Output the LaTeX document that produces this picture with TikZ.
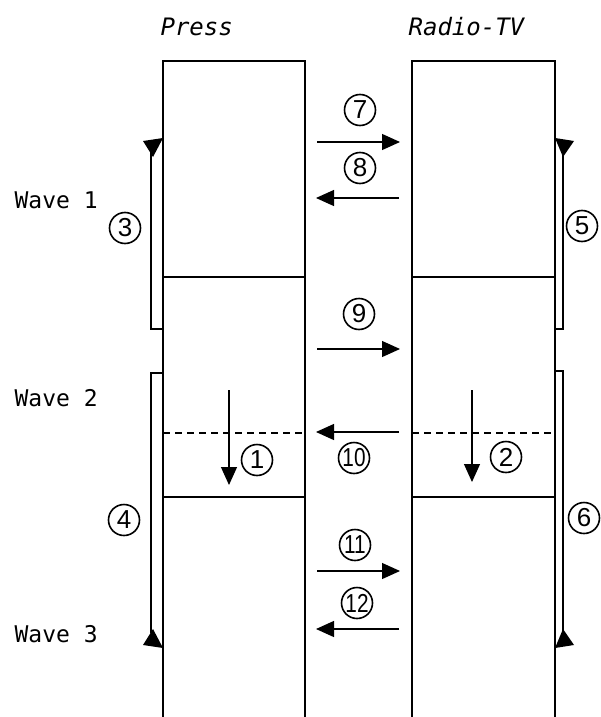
\documentclass[tikz,border=0pt]{standalone}
\usepackage{fontspec}
\newfontfamily\monofont{DejaVu Sans Mono}
\newfontfamily\numfont{Liberation Sans}
\usetikzlibrary{arrows.meta}
\begin{document}
\begin{tikzpicture}[x=1pt,y=-1pt,
  every path/.style={line width=1.2pt},
  tip/.style={-{Triangle[length=18pt,width=16pt]}},
  num/.style={draw,circle,line width=1.6pt,minimum size=31pt,inner sep=0pt,font=\numfont\fontsize{26}{26}\selectfont},
  lbl/.style={anchor=west,inner sep=0pt,font=\monofont\fontsize{23}{23}\selectfont},
  ttl/.style={anchor=west,inner sep=0pt,font=\monofont\itshape\fontsize{24}{24}\selectfont}]
\useasboundingbox (0,0) rectangle (601,717);
% titles
\node[ttl] (press) at (160,27) {Press};
\node[ttl] (radio) at (408,27) {Radio-TV};
% wave labels
\node[lbl] (w1) at (14,200) {Wave 1};
\node[lbl] (w2) at (14,398) {Wave 2};
\node[lbl] (w3) at (14,634) {Wave 3};
% columns
\draw (163,717) -- (163,61) -- (305,61) -- (305,717);
\draw (412,717) -- (412,61) -- (555,61) -- (555,717);
\draw (163,277) -- (305,277) (412,277) -- (555,277);
\draw[dashed,dash pattern=on 7pt off 5pt] (163,433) -- (305,433) (412,433) -- (555,433);
\draw (163,497) -- (305,497) (412,497) -- (555,497);
% coordinates for connectors
\coordinate (a7s) at (317,142); \coordinate (a7e) at (400,142);
\coordinate (a8s) at (399,198); \coordinate (a8e) at (316,198);
\coordinate (a9s) at (317,349); \coordinate (a9e) at (400,349);
\coordinate (a10s) at (399,432); \coordinate (a10e) at (316,432);
\coordinate (a11s) at (317,571); \coordinate (a11e) at (400,571);
\coordinate (a12s) at (399,629); \coordinate (a12e) at (316,629);
\coordinate (a1s) at (229,390); \coordinate (a1e) at (229,485);
\coordinate (a2s) at (472,390); \coordinate (a2e) at (472,482);
\draw[tip] (a7s) -- (a7e);
\draw[tip] (a8s) -- (a8e);
\draw[tip] (a9s) -- (a9e);
\draw[tip] (a10s) -- (a10e);
\draw[tip] (a11s) -- (a11e);
\draw[tip] (a12s) -- (a12e);
\draw[tip] (a1s) -- (a1e);
\draw[tip] (a2s) -- (a2e);
% brackets
\coordinate (b3a) at (163,329); \coordinate (b3b) at (151,329); \coordinate (b3c) at (151,152);
\coordinate (b4a) at (163,373); \coordinate (b4b) at (151,373); \coordinate (b4c) at (151,633);
\coordinate (b5a) at (555,329); \coordinate (b5b) at (563,329); \coordinate (b5c) at (563,152);
\coordinate (b6a) at (555,371); \coordinate (b6b) at (563,371); \coordinate (b6c) at (563,633);
\draw (b3a) -- (b3b) -- (b3c);
\draw (b4a) -- (b4b) -- (b4c);
\draw (b5a) -- (b5b) -- (b5c);
\draw (b6a) -- (b6b) -- (b6c);
\fill (163,138) -- (143,141) -- (153,157) -- cycle;
\fill (163,648) -- (143,645) -- (153,629) -- cycle;
\fill (555,138) -- (574,141) -- (563,157) -- cycle;
\fill (555,648) -- (574,645) -- (563,629) -- cycle;
% circled numbers
\node[num] (n1) at (257,460) {1};
\node[num] (n2) at (506,457) {2};
\node[num] (n3) at (125,228) {3};
\node[num] (n4) at (124,520) {4};
\node[num] (n5) at (582,226) {5};
\node[num] (n6) at (584,518) {6};
\node[num] (n7) at (360,110) {7};
\node[num] (n8) at (360,168) {8};
\node[num] (n9) at (359,314) {9};
\node[num] (n10) at (354,458) {\scalebox{0.8}[1]{10}};
\node[num] (n11) at (355,545) {\scalebox{0.8}[1]{11}};
\node[num] (n12) at (357,603) {\scalebox{0.8}[1]{12}};
\end{tikzpicture}
\end{document}
